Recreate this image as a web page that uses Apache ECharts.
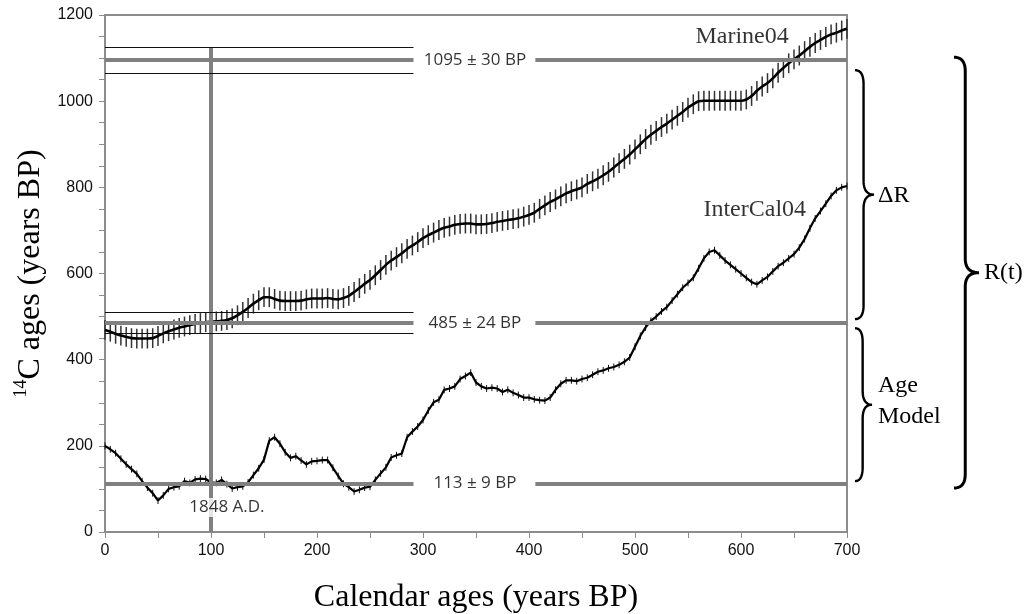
<!DOCTYPE html>
<html><head><meta charset="utf-8">
<script src="https://cdn.jsdelivr.net/npm/echarts@6/dist/echarts.min.js"></script>
<style>html,body{margin:0;padding:0;background:#fff}#c{width:1026px;height:614px}</style>
</head><body><div id="c"></div>
<script>
// ---- data ----
const years = [0,5,10,15,20,25,30,35,40,45,50,55,60,65,70,75,80,85,90,95,
100,105,110,115,120,125,130,135,140,145,150,155,160,165,170,175,180,185,190,195,
200,205,210,215,220,225,230,235,240,245,250,255,260,265,270,275,280,285,290,295,
300,305,310,315,320,325,330,335,340,345,350,355,360,365,370,375,380,385,390,395,
400,405,410,415,420,425,430,435,440,445,450,455,460,465,470,475,480,485,490,495,
500,505,510,515,520,525,530,535,540,545,550,555,560,565,570,575,580,585,590,595,
600,605,610,615,620,625,630,635,640,645,650,655,660,665,670,675,680,685,690,695,700];

const marine04 = [469,465,460,456,453,450,449,449,449,450,455,461,466,470,474,477,480,483,485,487,
488,489,490,492,496,503,511,520,530,538,545,545,541,537,536,536,536,537,540,542,
542,542,543,541,540,543,548,557,566,576,585,596,608,620,630,638,647,657,665,673,
682,689,695,701,706,709,713,715,716,716,714,714,715,717,720,722,724,726,728,732,
736,741,750,758,766,772,779,786,791,795,800,808,814,820,828,836,846,856,866,876,
888,900,912,922,931,940,948,957,966,975,985,993,1000,1001,1001,1001,1001,1001,1001,1001,
1001,1004,1012,1024,1034,1042,1053,1066,1077,1088,1097,1106,1116,1126,1135,1142,1149,1155,1159,1164,1168];
const marineErr = 23;

const intcal04 = [200,192,183,170,157,146,135,118,103,90,73,85,100,104,106,118,114,122,124,123,
115,114,121,111,101,104,106,115,132,148,168,212,220,205,185,172,176,166,157,164,
165,167,167,149,130,112,104,94,98,103,105,121,136,150,173,178,182,220,233,245,
260,282,301,307,330,333,338,355,362,370,347,338,333,335,333,325,330,323,318,312,
312,308,306,305,312,330,344,352,352,350,355,358,365,372,375,380,383,388,395,405,
430,455,475,490,500,512,522,537,552,567,578,590,612,635,650,654,642,630,620,610,
600,590,580,575,584,592,605,617,625,635,645,660,680,705,728,745,762,780,793,800,803];
const intcalErr = 8;

const refAges = [1095, 485, 113];
const refErrs = [30, 24, 9];
const refShowBounds = [true, true, false];
const eventYear = 100;            // 1848 A.D.
const eventLabel = '1848 A.D.';
const seriesNames = ['Marine04', 'InterCal04'];
const xTicks = [0, 100, 200, 300, 400, 500, 600, 700];
const yTicks = [0, 200, 400, 600, 800, 1000, 1200];

// ---- chart ----
const chart = echarts.init(document.getElementById('c'), null, {renderer: 'canvas'});
const GRAY = '#808080';
const AX = '#8c8c8c';
const SANS = 'Liberation Sans';
const SERIF = 'Liberation Serif';
const LBL = 'Open Sans';
const TXT = '#000';

function errBars(ys, err, color, width, z) {
  return {
    type: 'custom', silent: true, z: z,
    renderItem: function (params, api) {
      const x = api.value(0), y = api.value(1), e = api.value(2);
      const a = api.coord([x, y - e]), b = api.coord([x, y + e]);
      return {type: 'line', shape: {x1: a[0], y1: a[1], x2: b[0], y2: b[1]},
              style: {stroke: color, lineWidth: width}};
    },
    data: years.map((x, i) => [x, ys[i], err])
  };
}

const thick = [], thin = [];
refAges.forEach((v, i) => {
  thick.push([{coord: [0, v]}, {coord: [291, v]}]);
  thick.push([{coord: [406, v]}, {coord: [700, v]}]);
  if (refShowBounds[i]) {
    thin.push([{coord: [0, v + refErrs[i]]}, {coord: [291, v + refErrs[i]]}]);
    thin.push([{coord: [0, v - refErrs[i]]}, {coord: [291, v - refErrs[i]]}]);
  }
});
const vLine = [[{coord: [eventYear, 0]}, {coord: [eventYear, refAges[0] + refErrs[0]]}]];

const textPts = refAges.map((v, i) => ({
  value: [349, v],
  label: {formatter: v + ' \u00b1 ' + refErrs[i] + ' BP', fontFamily: LBL, fontSize: 17, color: TXT}
}));
textPts.push({value: [115, 57], label: {formatter: eventLabel, fontFamily: LBL, fontSize: 17, color: TXT,
  backgroundColor: '#fff', padding: [1, 3]}});
textPts.push({value: [601, 1149], label: {formatter: seriesNames[0], fontFamily: SERIF, fontSize: 24, color: '#000'}});
textPts.push({value: [613, 747], label: {formatter: seriesNames[1], fontFamily: SERIF, fontSize: 24, color: '#000'}});

const option = {
  animation: false,
  backgroundColor: '#fff',
  grid: {left: 105, right: 179, top: 15, bottom: 82, show: true, borderColor: AX, borderWidth: 2,
         containLabel: false, outerBoundsMode: 'none'},
  xAxis: {
    type: 'value', min: xTicks[0], max: xTicks[xTicks.length - 1], interval: 100,
    name: 'Calendar ages (years BP)', nameLocation: 'middle', nameGap: 50,
    nameTextStyle: {fontFamily: SERIF, fontSize: 32, color: '#000'},
    axisLine: {lineStyle: {color: AX, width: 2}},
    axisTick: {length: 6, lineStyle: {color: AX}},
    minorTick: {show: true, splitNumber: 2, length: 6, lineStyle: {color: AX}},
    splitLine: {show: false},
    axisLabel: {fontFamily: SANS, fontSize: 16, color: '#111', margin: 11, formatter: v => String(v)}
  },
  yAxis: {
    type: 'value', min: yTicks[0], max: yTicks[yTicks.length - 1], interval: 200,
    name: '{s|14}{n|C ages (years BP)}', nameLocation: 'middle', nameGap: 56,
    nameTextStyle: {rich: {
      s: {fontFamily: SERIF, fontSize: 18, color: '#000', verticalAlign: 'top', lineHeight: 36},
      n: {fontFamily: SERIF, fontSize: 32, color: '#000', lineHeight: 36}
    }},
    axisLine: {show: true, lineStyle: {color: AX, width: 2}},
    axisTick: {show: true, length: 6, lineStyle: {color: AX}},
    minorTick: {show: true, splitNumber: 4, length: 6, lineStyle: {color: AX}},
    splitLine: {show: false},
    axisLabel: {fontFamily: SANS, fontSize: 16, color: '#111', margin: 12, formatter: v => String(v)}
  },
  series: [
    {type: 'line', data: [], silent: true, z: 1,
     markLine: {silent: true, symbol: 'none', label: {show: false}, animation: false,
       lineStyle: {color: GRAY, width: 4, type: 'solid'}, data: thick.concat(vLine)}},
    {type: 'line', data: [], silent: true, z: 1,
     markLine: {silent: true, symbol: 'none', label: {show: false}, animation: false,
       lineStyle: {color: '#111', width: 1.2, type: 'solid'}, data: thin}},
    errBars(marine04, marineErr, '#333', 1.5, 3),
    errBars(intcal04, intcalErr, '#111', 1, 3),
    {name: seriesNames[0], type: 'line', data: years.map((x, i) => [x, marine04[i]]),
     showSymbol: false, smooth: 0.25, z: 4, lineStyle: {color: '#000', width: 2.6}},
    {name: seriesNames[1], type: 'line', data: years.map((x, i) => [x, intcal04[i]]),
     showSymbol: false, z: 4, lineStyle: {color: '#000', width: 2.2}},
    {type: 'scatter', symbolSize: 0, silent: true, z: 6, data: textPts,
     label: {show: true, position: 'inside'}}
  ]
};
chart.setOption(option);

// ---- braces and bracket labels outside the plot ----
function quad(pts, p0, p1, p2) {
  for (let k = 1; k <= 12; k++) {
    const t = k / 12, u = 1 - t;
    pts.push([u * u * p0[0] + 2 * u * t * p1[0] + t * t * p2[0],
              u * u * p0[1] + 2 * u * t * p1[1] + t * t * p2[1]]);
  }
}
function brace(x0, yTop, yBot, yMid, w) {
  const xm = x0 + w * 0.45, r = Math.min(14, (yBot - yTop) / 8);
  const pts = [[x0, yTop]];
  quad(pts, [x0, yTop], [xm, yTop], [xm, yTop + r]);
  pts.push([xm, yMid - r]);
  quad(pts, [xm, yMid - r], [xm, yMid], [x0 + w, yMid]);
  quad(pts, [x0 + w, yMid], [xm, yMid], [xm, yMid + r]);
  pts.push([xm, yBot - r]);
  quad(pts, [xm, yBot - r], [xm, yBot], [x0, yBot]);
  return pts;
}
const py = v => chart.convertToPixel({yAxisIndex: 0}, v);
const b1t = py(1072), b1b = py(494), b2t = py(473), b2b = py(118), b3t = py(1102), b3b = py(102);
const b1m = (b1t + b1b) / 2, b2m = (b2t + b2b) / 2, b3m = (b3t + b3b) / 2;
const tStyle = {fontFamily: SERIF, fontSize: 24, fill: '#000', verticalAlign: 'middle'};
chart.setOption({graphic: [
  {type: 'polyline', shape: {points: brace(855, b1t, b1b, b1m, 19)}, style: {stroke: '#000', lineWidth: 2.4, fill: null}},
  {type: 'polyline', shape: {points: brace(855, b2t, b2b, b2m, 17)}, style: {stroke: '#000', lineWidth: 2.4, fill: null}},
  {type: 'polyline', shape: {points: brace(954, b3t, b3b, b3m, 25)}, style: {stroke: '#000', lineWidth: 3, fill: null}},
  {type: 'text', x: 878, y: b1m + 1, style: Object.assign({text: '\u0394R'}, tStyle)},
  {type: 'text', x: 878, y: b2m - 3, style: Object.assign({text: 'Age\nModel', lineHeight: 31}, tStyle)},
  {type: 'text', x: 984, y: b3m, style: Object.assign({text: 'R(t)'}, tStyle)}
]});
</script></body></html>
